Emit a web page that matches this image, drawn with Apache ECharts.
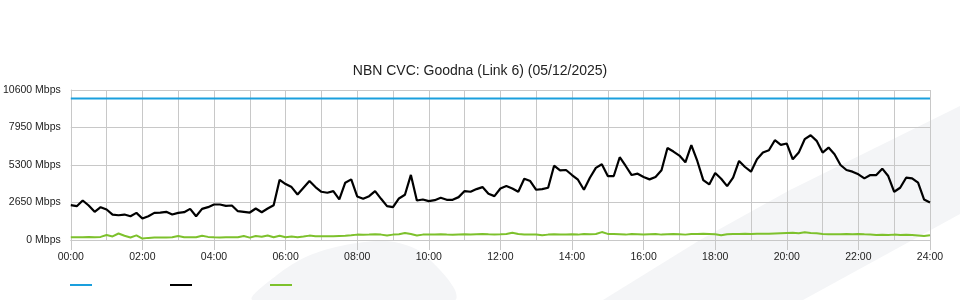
<!DOCTYPE html>
<html>
<head>
<meta charset="utf-8">
<script src="https://cdn.jsdelivr.net/npm/echarts@6/dist/echarts.min.js"></script>
<style>html,body{margin:0;padding:0;background:#fff}#c{width:960px;height:300px}</style>
</head>
<body>
<div id="c"></div>
<script>
// Data: 10-minute samples from 00:00 to 24:00 (145 points), Mbps
const TITLE = 'NBN CVC: Goodna (Link 6) (05/12/2025)';
const X_TICK_LABELS = ['00:00','02:00','04:00','06:00','08:00','10:00','12:00','14:00','16:00','18:00','20:00','22:00','24:00'];
const Y_TICKS = [0, 2650, 5300, 7950, 10600];
const SAMPLE_MINUTES = 10;
const capacity = [10000, 10000];            // flat capacity line (start, end of day)
const traffic = [2462,2390,2793,2438,1988,2319,2154,1799,1751,1799,1680,1917,1515,1680,1917,1941,1988,1799,1917,1964,2201,1680,2201,2319,2509,2509,2414,2438,2035,1988,1941,2225,1964,2225,2460,4250,3950,3739,3219,3692,4165,3739,3408,3337,3456,2864,4047,4284,3077,2911,3100,3456,2911,2390,2319,2935,3195,4600,2793,2864,2745,2816,2982,2840,2840,3030,3456,3408,3597,3739,3266,3100,3640,3810,3645,3408,4330,4165,3550,3597,3692,5250,4923,4946,4591,4260,3550,4402,5100,5350,4520,4520,5850,5230,4591,4686,4450,4284,4449,4923,6500,6250,5964,5491,6700,5585,4236,3929,4733,4331,3810,4402,5585,5159,4828,5704,6177,6343,7053,6721,6816,5704,6177,7124,7400,7005,6177,6532,6059,5301,4946,4828,4639,4355,4591,4591,5041,4520,3408,3692,4402,4355,4047,2864,2651];
const lower = [190,200,190,210,200,220,350,250,460,300,180,330,100,150,170,170,170,200,280,200,190,200,300,220,190,180,190,190,190,280,170,280,230,320,190,300,190,240,190,240,310,270,260,270,260,280,300,330,380,370,380,400,380,320,380,400,490,420,320,380,390,380,400,380,370,390,400,380,400,420,400,390,400,420,510,420,390,380,390,330,380,400,390,380,400,380,420,400,420,560,430,420,400,380,420,400,380,400,420,380,400,420,410,380,420,430,440,420,400,330,400,420,430,440,420,440,450,440,460,480,500,520,480,540,500,470,420,400,410,400,420,400,430,400,380,360,370,350,380,360,370,350,320,280,340];

const toPairs = arr => arr.map((v, i) => [i * SAMPLE_MINUTES / 60, v]);
const GRID_COLOR = '#c8c8c8';
const FONT = '"Liberation Sans", Arial, sans-serif';

const chart = echarts.init(document.getElementById('c'), null, {renderer: 'canvas'});
chart.setOption({
  animation: false,
  backgroundColor: '#fff',
  title: {
    text: TITLE, left: 'center', top: 64, padding: 0,
    textStyle: {fontFamily: FONT, fontSize: 14, fontWeight: 'normal', color: '#222'}
  },
  graphic: [
    {type: 'polygon', z: -10, silent: true,
     shape: {points: [[603,300],[700,240],[790,190],[960,106],[960,214],[803,300]]},
     style: {fill: '#f4f5f7'}},
    {type: 'polygon', z: -10, silent: true,
     shape: {points: [[253,300],[277,275],[308,256],[345,245],[385,241],[416,249],[440,270],[455,290],[455,300]], smooth: 0.3},
     style: {fill: '#f4f5f7'}}
  ],
  legend: [
    {data: ['Capacity'], left: 70, top: 284, padding: 0, icon: 'rect', itemWidth: 22, itemHeight: 2, formatter: () => '', textStyle: {fontSize: 10}},
    {data: ['Traffic'], left: 170, top: 284, padding: 0, icon: 'rect', itemWidth: 22, itemHeight: 2, formatter: () => '', textStyle: {fontSize: 10}},
    {data: ['Lower'], left: 270, top: 284, padding: 0, icon: 'rect', itemWidth: 22, itemHeight: 2, formatter: () => '', textStyle: {fontSize: 10}}
  ],
  grid: {left: 70, right: 30, top: 90, bottom: 60, show: false},
  xAxis: {
    type: 'value', min: 0, max: 24, interval: 2,
    axisLine: {show: true, lineStyle: {color: GRID_COLOR}},
    axisTick: {show: true, length: 10, lineStyle: {color: GRID_COLOR}},
    axisLabel: {margin: 12, fontFamily: FONT, fontSize: 10.5, color: '#222',
      formatter: v => X_TICK_LABELS[Math.round(v / 2)]},
    splitLine: {show: true, lineStyle: {color: GRID_COLOR}},
    minorTick: {show: false, splitNumber: 2},
    minorSplitLine: {show: true, lineStyle: {color: GRID_COLOR}}
  },
  yAxis: {
    type: 'value', min: Y_TICKS[0], max: Y_TICKS[Y_TICKS.length - 1], interval: Y_TICKS[1] - Y_TICKS[0],
    axisLine: {show: true, lineStyle: {color: GRID_COLOR}},
    axisTick: {show: false},
    axisLabel: {margin: 10, fontFamily: FONT, fontSize: 10.5, color: '#222', formatter: v => v + ' Mbps'},
    splitLine: {show: true, lineStyle: {color: GRID_COLOR}}
  },
  series: [
    {name: 'Capacity', type: 'line', data: [[0, capacity[0]], [24, capacity[1]]], showSymbol: false,
     lineStyle: {color: '#1a9fdd', width: 2}, itemStyle: {color: '#1a9fdd'}},
    {name: 'Traffic', type: 'line', data: toPairs(traffic), showSymbol: false,
     lineStyle: {color: '#000', width: 2.2}, itemStyle: {color: '#000'}},
    {name: 'Lower', type: 'line', data: toPairs(lower), showSymbol: false,
     lineStyle: {color: '#7dc12c', width: 2}, itemStyle: {color: '#7dc12c'}}
  ]
});
</script>
</body>
</html>
